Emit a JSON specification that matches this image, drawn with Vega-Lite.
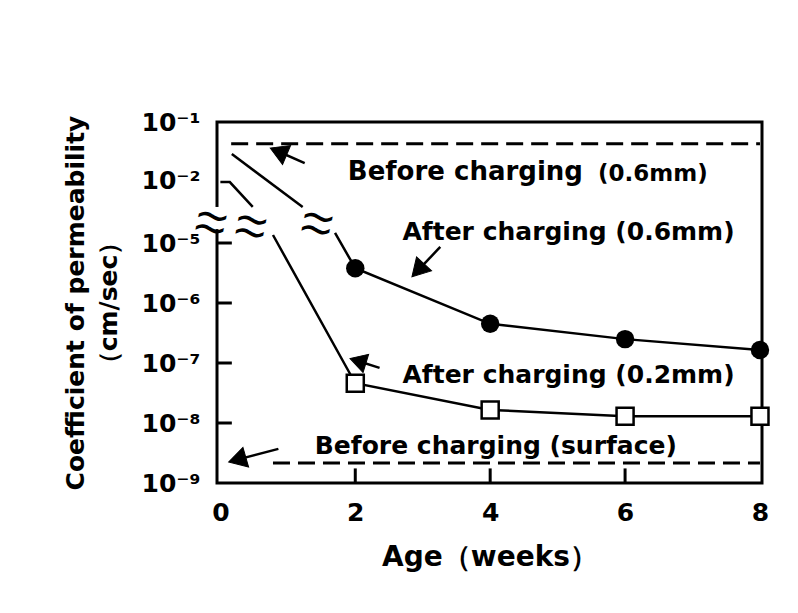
{
  "$schema": "https://vega.github.io/schema/vega-lite/v6.json",
  "width": 545,
  "height": 361,
  "autosize": {"type": "none"},
  "padding": {"left": 217, "top": 122, "right": 36, "bottom": 130},
  "background": "white",
  "config": {
    "view": {"stroke": "black", "strokeWidth": 3},
    "font": "DejaVu Sans"
  },
  "datasets": {
    "dashed": [
      {"s": "before06", "w": 0.16, "k": 0.042},
      {"s": "before06", "w": 8, "k": 0.042},
      {"s": "surface", "w": 0.78, "k": 2.15e-9},
      {"s": "surface", "w": 8, "k": 2.15e-9}
    ],
    "solid": [
      {"seg": "a1", "w": 0.17, "k": 0.028},
      {"seg": "a1", "w": 1.22, "k": 0.00052},
      {"seg": "a2", "w": 1.7, "k": 3.0e-5},
      {"seg": "a2", "w": 2, "k": 3.8e-6},
      {"seg": "a2", "w": 4, "k": 4.5e-7},
      {"seg": "a2", "w": 6, "k": 2.5e-7},
      {"seg": "a2", "w": 8, "k": 1.65e-7},
      {"seg": "b1", "w": 0, "k": 0.008},
      {"seg": "b1", "w": 0.14, "k": 0.008},
      {"seg": "b1", "w": 0.48, "k": 0.00052},
      {"seg": "b2", "w": 0.78, "k": 2.4e-5},
      {"seg": "b2", "w": 2, "k": 4.6e-8},
      {"seg": "b2", "w": 4, "k": 1.65e-8},
      {"seg": "b2", "w": 6, "k": 1.3e-8},
      {"seg": "b2", "w": 8, "k": 1.3e-8}
    ],
    "ticklines": [
      {"t": "x2", "w": 2, "k": 1.0e-9},
      {"t": "x2", "w": 2, "k": 1.75e-9},
      {"t": "x4", "w": 4, "k": 1.0e-9},
      {"t": "x4", "w": 4, "k": 1.75e-9},
      {"t": "x6", "w": 6, "k": 1.0e-9},
      {"t": "x6", "w": 6, "k": 1.75e-9},
      {"t": "y5", "w": -0.05, "k": 1e-5},
      {"t": "y5", "w": 0.17, "k": 1e-5},
      {"t": "y6", "w": -0.05, "k": 1e-6},
      {"t": "y6", "w": 0.17, "k": 1e-6},
      {"t": "y7", "w": -0.05, "k": 1e-7},
      {"t": "y7", "w": 0.17, "k": 1e-7},
      {"t": "y8", "w": -0.05, "k": 1e-8},
      {"t": "y8", "w": 0.17, "k": 1e-8}
    ],
    "gap": [
      {"w": -0.15, "w2": 0.07, "k": 0.00052, "k2": 4.6e-5}
    ],
    "breaks": [
      {"w": -0.12, "k": 0.000173, "t": "~\n~"},
      {"w": 0.47, "k": 0.000112, "t": "~\n~"},
      {"w": 1.45, "k": 0.000155, "t": "~\n~"}
    ],
    "arrows": [
      {"a": "A", "w": 1.25, "k": 0.0196, "w2": 0.86, "k2": 0.031},
      {"a": "B", "w": 3.26, "k": 8.6e-6, "w2": 2.93, "k2": 3.5e-6},
      {"a": "C", "w": 2.36, "k": 8.3e-8, "w2": 2.04, "k2": 1.08e-7},
      {"a": "D", "w": 0.86, "k": 3.7e-9, "w2": 0.25, "k2": 2.45e-9}
    ],
    "labels": [
      {"t": "After charging (0.6mm)", "w": 2.7, "k": 3.3e-5},
      {"t": "After charging (0.2mm)", "w": 2.7, "k": 6.3e-8},
      {"t": "Before charging (surface)", "w": 1.4, "k": 4.1e-9}
    ],
    "label1": [
      {"t": "Before charging", "w": 1.89, "k": 0.0137}
    ],
    "label1b": [
      {"t": "(0.6mm)", "w": 5.6, "k": 0.0127}
    ]
  },
  "encoding": {
    "x": {
      "field": "w",
      "type": "quantitative",
      "scale": {"domain": [-0.05, 8.03], "nice": false, "zero": false},
      "axis": {
        "values": [0, 2, 4, 6, 8],
        "grid": false,
        "domain": false,
        "ticks": false,
        "labelPadding": 17,
        "labelFontSize": 25,
        "labelFontWeight": "bold",
        "labelColor": "black",
        "labelFont": "DejaVu Sans",
        "title": "Age（weeks）",
        "titleFontSize": 28,
        "titleFontWeight": "bold",
        "titleColor": "black",
        "titlePadding": 18,
        "titleFont": "DejaVu Sans"
      }
    },
    "y": {
      "field": "k",
      "type": "quantitative",
      "scale": {
        "type": "log",
        "domain": [1e-9, 1e-5, 0.01, 0.1],
        "range": [361, 121, 58, 0],
        "nice": false,
        "zero": false
      },
      "axis": {
        "values": [0.1, 0.01, 1e-5, 1e-6, 1e-7, 1e-8, 1e-9],
        "grid": false,
        "domain": false,
        "ticks": false,
        "labelPadding": 17,
        "labelFontSize": 25,
        "labelFontWeight": "bold",
        "labelColor": "black",
        "labelFont": "DejaVu Sans",
        "labelExpr": "datum.value > 0.05 ? '10⁻¹' : datum.value > 0.005 ? '10⁻²' : datum.value > 5e-6 ? '10⁻⁵' : datum.value > 5e-7 ? '10⁻⁶' : datum.value > 5e-8 ? '10⁻⁷' : datum.value > 5e-9 ? '10⁻⁸' : '10⁻⁹'",
        "title": ["Coefficient of permeability", "（cm/sec）"],
        "titleFontSize": 25,
        "titleFontWeight": "bold",
        "titleColor": "black",
        "titleLineHeight": 33,
        "titlePadding": 20,
        "titleFont": "DejaVu Sans"
      }
    }
  },
  "layer": [
    {
      "data": {"name": "dashed"},
      "mark": {"type": "line", "color": "black", "strokeWidth": 3, "strokeDash": [17, 8]},
      "encoding": {"detail": {"field": "s"}}
    },
    {
      "data": {"name": "solid"},
      "mark": {"type": "line", "color": "black", "strokeWidth": 2.5},
      "encoding": {"detail": {"field": "seg"}}
    },
    {
      "data": {"name": "ticklines"},
      "mark": {"type": "line", "color": "#000000", "strokeWidth": 3, "opacity": 1},
      "encoding": {"detail": {"field": "t"}}
    },
    {
      "data": {"name": "solid"},
      "transform": [{"filter": "datum.seg == 'a2' && datum.w >= 2"}],
      "mark": {"type": "point", "shape": "circle", "filled": true, "color": "black", "size": 340, "opacity": 1}
    },
    {
      "data": {"name": "solid"},
      "transform": [{"filter": "datum.seg == 'b2' && datum.w >= 2"}],
      "mark": {"type": "point", "shape": "square", "filled": true, "fill": "white", "stroke": "black", "strokeWidth": 2.5, "size": 290, "opacity": 1}
    },
    {
      "data": {"name": "gap"},
      "mark": {"type": "rect", "fill": "white", "stroke": null},
      "encoding": {"x2": {"field": "w2"}, "y2": {"field": "k2"}}
    },
    {
      "data": {"name": "breaks"},
      "mark": {"type": "text", "fontSize": 44, "font": "DejaVu Sans", "fontWeight": "normal", "angle": 12, "color": "black", "align": "center", "baseline": "middle", "lineBreak": "\n", "lineHeight": 13},
      "encoding": {"text": {"field": "t"}}
    },
    {
      "data": {"name": "arrows"},
      "mark": {"type": "rule", "color": "black", "strokeWidth": 2.5},
      "encoding": {"x2": {"field": "w2"}, "y2": {"field": "k2"}}
    },
    {
      "data": {"name": "arrows"},
      "transform": [{"filter": "datum.a == 'A'"}],
      "mark": {"type": "point", "shape": "triangle-up", "filled": true, "fill": "black", "stroke": "black", "strokeWidth": 1, "size": 420, "opacity": 1, "angle": -67},
      "encoding": {"x": {"field": "w2", "type": "quantitative"}, "y": {"field": "k2", "type": "quantitative"}}
    },
    {
      "data": {"name": "arrows"},
      "transform": [{"filter": "datum.a == 'B'"}],
      "mark": {"type": "point", "shape": "triangle-up", "filled": true, "fill": "black", "stroke": "black", "strokeWidth": 1, "size": 420, "opacity": 1, "angle": -137},
      "encoding": {"x": {"field": "w2", "type": "quantitative"}, "y": {"field": "k2", "type": "quantitative"}}
    },
    {
      "data": {"name": "arrows"},
      "transform": [{"filter": "datum.a == 'C'"}],
      "mark": {"type": "point", "shape": "triangle-up", "filled": true, "fill": "black", "stroke": "black", "strokeWidth": 1, "size": 360, "opacity": 1, "angle": -73},
      "encoding": {"x": {"field": "w2", "type": "quantitative"}, "y": {"field": "k2", "type": "quantitative"}}
    },
    {
      "data": {"name": "arrows"},
      "transform": [{"filter": "datum.a == 'D'"}],
      "mark": {"type": "point", "shape": "triangle-up", "filled": true, "fill": "black", "stroke": "black", "strokeWidth": 1, "size": 420, "opacity": 1, "angle": -106},
      "encoding": {"x": {"field": "w2", "type": "quantitative"}, "y": {"field": "k2", "type": "quantitative"}}
    },
    {
      "data": {"name": "labels"},
      "mark": {"type": "text", "fontSize": 25, "font": "DejaVu Sans", "fontWeight": "bold", "color": "black", "align": "left", "baseline": "middle"},
      "encoding": {"text": {"field": "t"}}
    },
    {
      "data": {"name": "label1"},
      "mark": {"type": "text", "fontSize": 26, "font": "DejaVu Sans", "fontWeight": "bold", "color": "black", "align": "left", "baseline": "middle"},
      "encoding": {"text": {"field": "t"}}
    },
    {
      "data": {"name": "label1b"},
      "mark": {"type": "text", "fontSize": 23, "font": "DejaVu Sans", "fontWeight": "bold", "color": "black", "align": "left", "baseline": "middle"},
      "encoding": {"text": {"field": "t"}}
    }
  ]
}
